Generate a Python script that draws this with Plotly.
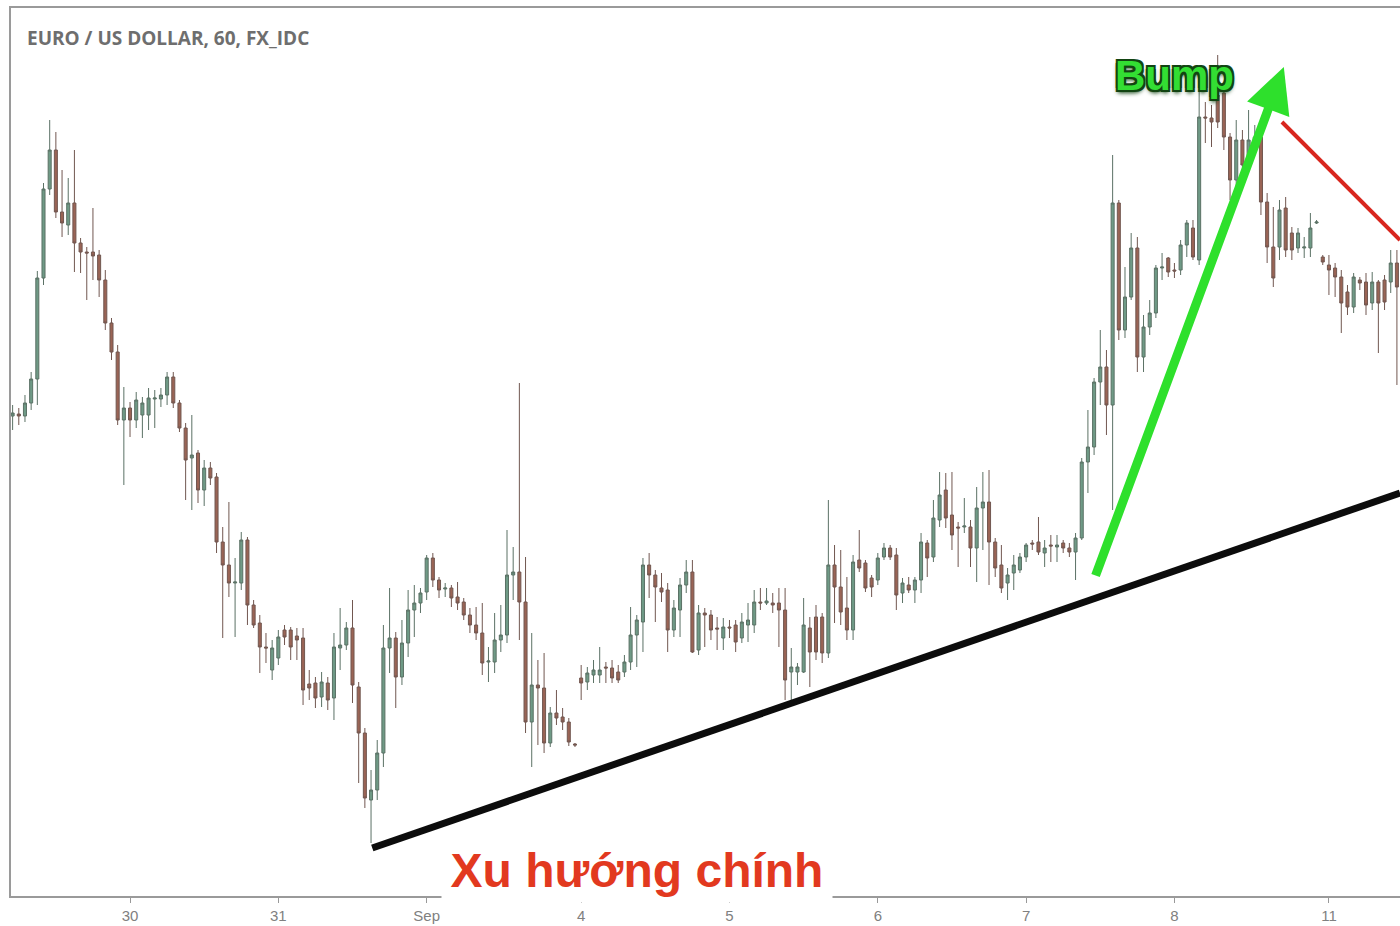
import pandas as pd
import plotly.graph_objects as go

# EUR/USD hourly bars, 29 Aug - 11 Sep 2017 (weekend gaps removed)
sessions = [
    ("2017-08-29 05:00", 19),
    ("2017-08-30 00:00", 24),
    ("2017-08-31 00:00", 24),
    ("2017-09-01 00:00", 24),
    ("2017-09-03 23:00", 1),
    ("2017-09-04 00:00", 24),
    ("2017-09-05 00:00", 24),
    ("2017-09-06 00:00", 24),
    ("2017-09-07 00:00", 24),
    ("2017-09-08 00:00", 24),
    ("2017-09-10 23:00", 1),
    ("2017-09-11 00:00", 12),
]
times = []
for start, n in sessions:
    times += [t.strftime("%Y-%m-%d %H:%M") for t in pd.date_range(start, periods=n, freq="h")]

opens = [
    1.19736, 1.19744, 1.19736, 1.19788, 1.19884, 1.20288, 1.20644, 1.20800, 1.20552, 1.20500,
    1.20588, 1.20428, 1.20392, 1.20392, 1.20380, 1.20280, 1.20108, 1.19992, 1.19720, 1.19768,
    1.19720, 1.19740, 1.19740, 1.19804, 1.19804, 1.19820, 1.19892, 1.19788, 1.19688, 1.19568,
    1.19588, 1.19440, 1.19528, 1.19492, 1.19232, 1.19140, 1.19068, 1.19068, 1.19240, 1.18980,
    1.18908, 1.18812, 1.18720, 1.18768, 1.18880, 1.18880, 1.18856, 1.18848, 1.18664, 1.18668,
    1.18612, 1.18668, 1.18608, 1.18808, 1.18820, 1.18888, 1.18652, 1.18468, 1.18200, 1.18240,
    1.18388, 1.18808, 1.18848, 1.18692, 1.18828, 1.18960, 1.18988, 1.19032, 1.19168, 1.19080,
    1.19044, 1.19048, 1.19012, 1.18992, 1.18940, 1.18900, 1.18868, 1.18752, 1.18752, 1.18840,
    1.18860, 1.19100, 1.19112, 1.18992, 1.18512, 1.18660, 1.18648, 1.18428, 1.18548, 1.18532,
    1.18512, 1.18424, 1.18688, 1.18672, 1.18700, 1.18700, 1.18732, 1.18728, 1.18712, 1.18712,
    1.18752, 1.18860, 1.18912, 1.19140, 1.19100, 1.19048, 1.19040, 1.18880, 1.18960, 1.19060,
    1.19112, 1.18800, 1.18948, 1.18940, 1.18888, 1.18848, 1.18892, 1.18900, 1.18848, 1.18900,
    1.18900, 1.18992, 1.18988, 1.18988, 1.18988, 1.18960, 1.18712, 1.18712, 1.18712, 1.18888,
    1.18932, 1.18932, 1.18788, 1.19140, 1.19052, 1.18968, 1.18880, 1.19160, 1.19148, 1.19088,
    1.19080, 1.19172, 1.19208, 1.19180, 1.19028, 1.19060, 1.19040, 1.19080, 1.19228, 1.19172,
    1.19320, 1.19440, 1.19340, 1.19292, 1.19292, 1.19292, 1.19208, 1.19368, 1.19392, 1.19232,
    1.19140, 1.19068, 1.19108, 1.19120, 1.19172, 1.19228, 1.19232, 1.19188, 1.19220, 1.19212,
    1.19228, 1.19208, 1.19192, 1.19248, 1.19552, 1.19612, 1.19872, 1.19932, 1.19780, 1.20588,
    1.20080, 1.20212, 1.20408, 1.19972, 1.20092, 1.20148, 1.20328, 1.20368, 1.20320, 1.20320,
    1.20420, 1.20488, 1.20360, 1.20932, 1.20928, 1.21020, 1.21028, 1.20852, 1.20680, 1.20840,
    1.20740, 1.20840, 1.20852, 1.20592, 1.20412, 1.20412, 1.20568, 1.20468, 1.20408, 1.20408,
    1.20408, 1.20508, 1.20372, 1.20340, 1.20328, 1.20292, 1.20232, 1.20172, 1.20280, 1.20272,
    1.20188, 1.20272, 1.20280, 1.20272, 1.20348,
]
highs = [
    1.19780, 1.19768, 1.19820, 1.19912, 1.20316, 1.20668, 1.20920, 1.20872, 1.20720, 1.20688,
    1.20800, 1.20448, 1.20412, 1.20568, 1.20400, 1.20320, 1.20128, 1.20020, 1.19852, 1.19792,
    1.19832, 1.19812, 1.19848, 1.19840, 1.19848, 1.19912, 1.19912, 1.19800, 1.19708, 1.19740,
    1.19600, 1.19560, 1.19552, 1.19508, 1.19292, 1.19392, 1.19168, 1.19272, 1.19252, 1.19000,
    1.18940, 1.18868, 1.18840, 1.18880, 1.18900, 1.18892, 1.18888, 1.18888, 1.18720, 1.18692,
    1.18712, 1.18692, 1.18868, 1.18968, 1.18912, 1.19000, 1.18672, 1.18488, 1.18320, 1.18440,
    1.18900, 1.19048, 1.18872, 1.18920, 1.19040, 1.19060, 1.19048, 1.19180, 1.19188, 1.19092,
    1.19068, 1.19060, 1.19072, 1.19008, 1.18968, 1.18972, 1.18988, 1.18812, 1.18948, 1.18980,
    1.19280, 1.19212, 1.19868, 1.19172, 1.18868, 1.18760, 1.18788, 1.18572, 1.18640, 1.18568,
    1.18528, 1.18428, 1.18740, 1.18732, 1.18760, 1.18812, 1.18752, 1.18760, 1.18740, 1.18780,
    1.18972, 1.18940, 1.19168, 1.19188, 1.19120, 1.19108, 1.19068, 1.19000, 1.19088, 1.19160,
    1.19160, 1.18980, 1.18968, 1.18960, 1.18932, 1.18928, 1.18920, 1.18920, 1.18948, 1.18988,
    1.19040, 1.19048, 1.19048, 1.19028, 1.19048, 1.19048, 1.18808, 1.18748, 1.19008, 1.18932,
    1.18980, 1.18948, 1.19400, 1.19220, 1.19200, 1.19092, 1.19180, 1.19280, 1.19160, 1.19100,
    1.19188, 1.19228, 1.19220, 1.19208, 1.19088, 1.19092, 1.19092, 1.19268, 1.19240, 1.19400,
    1.19512, 1.19508, 1.19512, 1.19312, 1.19408, 1.19320, 1.19452, 1.19512, 1.19520, 1.19248,
    1.19220, 1.19128, 1.19180, 1.19188, 1.19228, 1.19240, 1.19332, 1.19240, 1.19260, 1.19260,
    1.19240, 1.19228, 1.19268, 1.19568, 1.19760, 1.19888, 1.20080, 1.20000, 1.20780, 1.20600,
    1.20332, 1.20468, 1.20452, 1.20140, 1.20200, 1.20340, 1.20388, 1.20372, 1.20348, 1.20440,
    1.20520, 1.20520, 1.21040, 1.20992, 1.20980, 1.21180, 1.21048, 1.20868, 1.20920, 1.20880,
    1.20960, 1.20900, 1.20920, 1.20628, 1.20572, 1.20600, 1.20612, 1.20492, 1.20488, 1.20452,
    1.20548, 1.20520, 1.20380, 1.20380, 1.20348, 1.20320, 1.20260, 1.20308, 1.20292, 1.20308,
    1.20312, 1.20280, 1.20300, 1.20400, 1.20400,
]
lows = [
    1.19680, 1.19700, 1.19712, 1.19760, 1.19780, 1.20260, 1.20620, 1.20528, 1.20452, 1.20460,
    1.20312, 1.20308, 1.20200, 1.20280, 1.20212, 1.20080, 1.19960, 1.19700, 1.19460, 1.19652,
    1.19688, 1.19648, 1.19680, 1.19688, 1.19772, 1.19780, 1.19768, 1.19672, 1.19400, 1.19360,
    1.19388, 1.19376, 1.19460, 1.19188, 1.18848, 1.19012, 1.18852, 1.19040, 1.18900, 1.18888,
    1.18708, 1.18748, 1.18680, 1.18740, 1.18820, 1.18760, 1.18760, 1.18580, 1.18600, 1.18568,
    1.18572, 1.18560, 1.18520, 1.18720, 1.18800, 1.18588, 1.18268, 1.18168, 1.18028, 1.18200,
    1.18332, 1.18708, 1.18568, 1.18660, 1.18772, 1.18852, 1.18948, 1.19000, 1.19052, 1.19008,
    1.19012, 1.18972, 1.18960, 1.18920, 1.18868, 1.18840, 1.18700, 1.18672, 1.18708, 1.18792,
    1.18828, 1.19000, 1.18840, 1.18468, 1.18332, 1.18420, 1.18388, 1.18412, 1.18500, 1.18480,
    1.18416, 1.18412, 1.18600, 1.18640, 1.18668, 1.18668, 1.18668, 1.18668, 1.18668, 1.18692,
    1.18720, 1.18732, 1.18792, 1.19008, 1.18912, 1.18992, 1.18792, 1.18852, 1.18852, 1.19028,
    1.18788, 1.18780, 1.18812, 1.18840, 1.18800, 1.18800, 1.18848, 1.18792, 1.18828, 1.18832,
    1.18868, 1.18960, 1.18980, 1.18948, 1.18812, 1.18600, 1.18600, 1.18660, 1.18708, 1.18652,
    1.18760, 1.18748, 1.18768, 1.18908, 1.18900, 1.18840, 1.18840, 1.19112, 1.19032, 1.19012,
    1.19060, 1.19160, 1.19160, 1.18960, 1.18988, 1.19028, 1.18988, 1.19028, 1.19092, 1.19152,
    1.19292, 1.19288, 1.19200, 1.19132, 1.19268, 1.19132, 1.19072, 1.19200, 1.19060, 1.19092,
    1.19028, 1.19000, 1.19040, 1.19108, 1.19152, 1.19200, 1.19180, 1.19132, 1.19152, 1.19152,
    1.19188, 1.19172, 1.19080, 1.19240, 1.19428, 1.19580, 1.19780, 1.19660, 1.19360, 1.20040,
    1.20048, 1.20200, 1.19912, 1.19912, 1.20060, 1.20128, 1.20280, 1.20292, 1.20288, 1.20300,
    1.20372, 1.20360, 1.20340, 1.20828, 1.20812, 1.20888, 1.20800, 1.20600, 1.20600, 1.20700,
    1.20720, 1.20800, 1.20540, 1.20348, 1.20252, 1.20360, 1.20372, 1.20360, 1.20388, 1.20368,
    1.20372, 1.20504, 1.20340, 1.20220, 1.20212, 1.20068, 1.20140, 1.20148, 1.20240, 1.20140,
    1.20160, 1.19988, 1.20160, 1.20228, 1.19860,
]
closes = [
    1.19748, 1.19736, 1.19788, 1.19884, 1.20288, 1.20644, 1.20800, 1.20552, 1.20508, 1.20588,
    1.20428, 1.20392, 1.20388, 1.20376, 1.20280, 1.20108, 1.19992, 1.19720, 1.19768, 1.19720,
    1.19800, 1.19788, 1.19808, 1.19808, 1.19820, 1.19892, 1.19788, 1.19688, 1.19560, 1.19580,
    1.19440, 1.19528, 1.19488, 1.19232, 1.19140, 1.19068, 1.19072, 1.19240, 1.18980, 1.18900,
    1.18812, 1.18808, 1.18808, 1.18852, 1.18852, 1.18812, 1.18840, 1.18640, 1.18648, 1.18608,
    1.18672, 1.18600, 1.18812, 1.18820, 1.18888, 1.18660, 1.18468, 1.18208, 1.18240, 1.18388,
    1.18808, 1.18848, 1.18692, 1.18828, 1.18960, 1.18988, 1.19028, 1.19168, 1.19080, 1.19040,
    1.19048, 1.19008, 1.18988, 1.18940, 1.18900, 1.18868, 1.18748, 1.18756, 1.18840, 1.18860,
    1.19100, 1.19112, 1.18992, 1.18512, 1.18660, 1.18648, 1.18428, 1.18548, 1.18528, 1.18512,
    1.18432, 1.18420, 1.18668, 1.18708, 1.18720, 1.18720, 1.18728, 1.18688, 1.18680, 1.18752,
    1.18860, 1.18920, 1.19140, 1.19100, 1.19052, 1.19032, 1.18880, 1.18968, 1.19060, 1.19112,
    1.18792, 1.18948, 1.18940, 1.18880, 1.18884, 1.18892, 1.18888, 1.18832, 1.18912, 1.18920,
    1.18992, 1.18988, 1.18996, 1.18980, 1.18960, 1.18680, 1.18732, 1.18732, 1.18900, 1.18792,
    1.18792, 1.18788, 1.19140, 1.19052, 1.18952, 1.18880, 1.19152, 1.19128, 1.19048, 1.19052,
    1.19168, 1.19208, 1.19172, 1.19020, 1.19068, 1.19040, 1.19080, 1.19232, 1.19168, 1.19328,
    1.19420, 1.19328, 1.19260, 1.19288, 1.19296, 1.19208, 1.19368, 1.19392, 1.19232, 1.19128,
    1.19048, 1.19100, 1.19140, 1.19172, 1.19220, 1.19224, 1.19192, 1.19208, 1.19216, 1.19220,
    1.19208, 1.19192, 1.19248, 1.19552, 1.19612, 1.19872, 1.19932, 1.19780, 1.20588, 1.20080,
    1.20212, 1.20408, 1.19972, 1.20092, 1.20148, 1.20328, 1.20332, 1.20312, 1.20316, 1.20420,
    1.20508, 1.20372, 1.20932, 1.20928, 1.20912, 1.20912, 1.20852, 1.20680, 1.20840, 1.20740,
    1.20840, 1.20852, 1.20592, 1.20412, 1.20288, 1.20560, 1.20400, 1.20400, 1.20468, 1.20412,
    1.20488, 1.20512, 1.20352, 1.20320, 1.20292, 1.20188, 1.20172, 1.20292, 1.20268, 1.20180,
    1.20272, 1.20188, 1.20192, 1.20348, 1.20252,
]

tick_vals = ["2017-08-30 00:00", "2017-08-31 00:00", "2017-09-01 00:00", "2017-09-04 00:00",
             "2017-09-05 00:00", "2017-09-06 00:00", "2017-09-07 00:00", "2017-09-08 00:00",
             "2017-09-11 00:00"]
tick_text = ["30", "31", "Sep", "4", "5", "6", "7", "8", "11"]

# drawn lines: (bar index, price)
main_trend = [(58.2, 1.18008), (224.5, 1.19428)]
bump_arrow = [(175.15, 1.19092), (205.7, 1.21132)]
red_trend = [(205.4, 1.20912), (224.5, 1.20440)]

fig = go.Figure(go.Candlestick(
    x=times, open=opens, high=highs, low=lows, close=closes,
    increasing=dict(fillcolor="#6f9a86", line=dict(color="#5b7165", width=1)),
    decreasing=dict(fillcolor="#9a6455", line=dict(color="#715750", width=1)),
    whiskerwidth=0, showlegend=False, hoverinfo="skip",
))

fig.add_shape(type="line", xref="x", yref="y",
              x0=main_trend[0][0], y0=main_trend[0][1], x1=main_trend[1][0], y1=main_trend[1][1],
              line=dict(color="#0c0c0c", width=7))
fig.add_shape(type="line", xref="x", yref="y",
              x0=red_trend[0][0], y0=red_trend[0][1], x1=red_trend[1][0], y1=red_trend[1][1],
              line=dict(color="#d8261e", width=4))
fig.add_annotation(x=bump_arrow[1][0], y=bump_arrow[1][1], ax=bump_arrow[0][0], ay=bump_arrow[0][1],
                   xref="x", yref="y", axref="x", ayref="y", text="", showarrow=True,
                   arrowhead=2, arrowsize=1.0, arrowwidth=9, arrowcolor="#2ee02c", standoff=0)

fig.add_annotation(x=0.0101, y=0.966, xref="paper", yref="paper", xanchor="left", yanchor="middle",
                   text="EURO / US DOLLAR, 60, FX_IDC", showarrow=False,
                   font=dict(family="Open Sans", size=19, color="#6e6e6e", weight="bold"))
fig.add_annotation(x=0.838, y=0.9245, xref="paper", yref="paper", xanchor="center", yanchor="middle",
                   text="Bump", showarrow=False,
                   font=dict(family="Liberation Sans", size=42, color="#33de33", weight="bold",
                             shadow="-2px -2px 0 #124412, 2px -2px 0 #124412, -2px 2px 0 #124412, "
                                    "2px 2px 0 #124412, 0 3px 4px #124412"))
fig.add_annotation(x=0.4507, y=0.0293, xref="paper", yref="paper", xanchor="center", yanchor="middle",
                   text="Xu hướng chính", showarrow=False, bgcolor="white", width=388, height=62,
                   font=dict(family="Liberation Sans", size=48, color="#e2391f", weight="bold"))

fig.update_layout(
    width=1400, height=926,
    margin=dict(l=11, r=0, t=8, b=30),
    paper_bgcolor="white", plot_bgcolor="white",
    xaxis=dict(type="category", range=[-0.26, 224.5], rangeslider=dict(visible=False),
               tickmode="array", tickvals=tick_vals, ticktext=tick_text,
               ticks="outside", ticklen=5, tickcolor="#999999", showgrid=False,
               showline=True, mirror=True, linecolor="#9a9a9a", linewidth=2,
               tickfont=dict(family="Liberation Sans Narrow, Liberation Sans, sans-serif", size=15, color="#808080")),
    yaxis=dict(range=[1.17816, 1.21368], showticklabels=False, showgrid=False, zeroline=False,
               showline=True, linecolor="#9a9a9a", linewidth=2, ticks=""),
)

fig.write_html("out.html", config={"displayModeBar": False},
               post_script="document.body.style.margin='0';document.body.style.overflow='hidden';")
